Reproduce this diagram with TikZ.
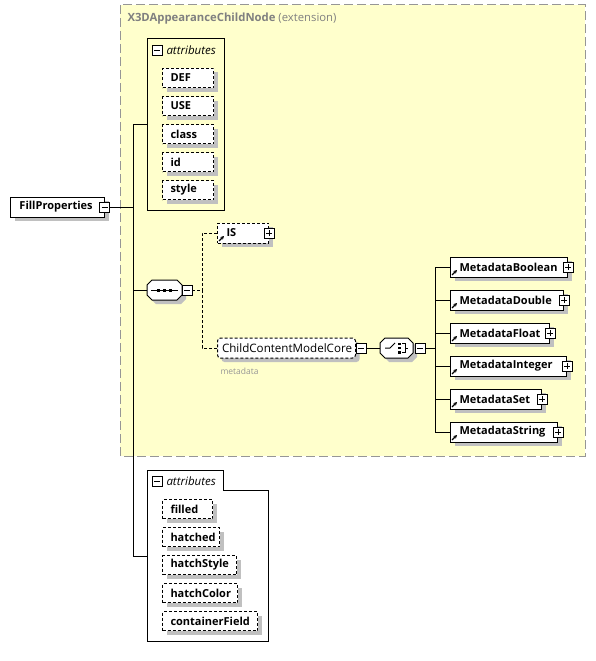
\documentclass[tikz,border=0pt]{standalone}
\usepackage{fontspec}
\setmainfont{Open Sans}
\usetikzlibrary{shadows,arrows.meta}
\definecolor{ybg}{RGB}{255,255,204}
\definecolor{yborder}{RGB}{150,150,150}
\definecolor{shadowc}{RGB}{192,192,192}
\definecolor{ttl}{RGB}{128,128,128}
\definecolor{mdgray}{RGB}{150,150,150}
\newcommand{\lbx}[2]{\makebox[#1][l]{#2}}
\newcommand{\octpath}[4]{({#1+5},#2) -- ({#3-5},#2) -- (#3,{#2+5}) -- (#3,{#4-5}) -- ({#3-5},#4) -- ({#1+5},#4) -- (#1,{#4-5}) -- (#1,{#2+5}) -- cycle}
\begin{document}
\begin{tikzpicture}[x=1pt,y=-1pt,line width=1pt,
  shad/.style={drop shadow={shadow xshift=4pt,shadow yshift=-4pt,fill=shadowc,opacity=1}},
  elem/.style={draw,fill=white,shad,anchor=west,minimum height=20pt,inner ysep=0pt,inner xsep=8pt,
    font=\bfseries\fontsize{11}{13}\selectfont},
  attr/.style={elem,dash pattern=on 3pt off 2pt,minimum height=19pt},
  refel/.style={elem,inner xsep=9pt},
  solidel/.style={elem,inner xsep=9pt},
  pmbox/.style={draw,solid,fill=white,minimum size=10pt,inner sep=0pt,line width=0.8pt},
  minusbox/.style={pmbox,path picture={\draw[line width=0.8pt] ([xshift=2pt]path picture bounding box.west) -- ([xshift=-2pt]path picture bounding box.east);}},
  plusbox/.style={pmbox,path picture={\draw[line width=0.8pt] ([xshift=2pt]path picture bounding box.west) -- ([xshift=-2pt]path picture bounding box.east);
     \draw[line width=0.8pt] ([yshift=2pt]path picture bounding box.south) -- ([yshift=-2pt]path picture bounding box.north);}},
  anch/.style={minimum height=20pt,inner sep=0pt},
  hdr/.style={anchor=west,inner sep=0pt,font=\itshape\fontsize{11.5}{13}\selectfont},
  refarrow/.style={solid,-{Stealth[length=3.5pt,width=3.5pt]},line width=1.1pt},
  conn/.style={line width=1pt},
  dconn/.style={line width=1pt,dash pattern=on 3pt off 2pt}
]
\useasboundingbox (0,0) rectangle (596,661);
\fill[white] (0,0) rectangle (596,661);

% extension area
\draw[fill=ybg,draw=yborder,dash pattern=on 9pt off 4pt] (120,5) rectangle (585,456);
\node[anchor=west,inner sep=0pt,text=ttl,font=\fontsize{11.3}{13}\selectfont] (ttl) at (127,19)
  {\textbf{X3DAppearanceChildNode} (extension)};

% root
\node[solidel] (fp) at (10,207) {\lbx{76pt}{FillProperties}};
\node[minusbox] (fpm) at ([xshift=-0.5pt]fp.east) {};
\coordinate (trunk) at (133,207);
\draw[conn] (fpm.east) -- (trunk);

% top attributes
\node[draw,minimum width=77pt,minimum height=171pt,inner sep=0pt] (attA) at (185.5,124.5) {};
\node[minusbox] (attAm) at (157,50) {};
\node[hdr] (attAt) at (166,50) {attributes};
\node[attr] (def) at (162,78) {\lbx{35pt}{DEF}};
\node[attr] (use) at (162,106) {\lbx{35pt}{USE}};
\node[attr] (class) at (162,134) {\lbx{35pt}{class}};
\node[attr] (id) at (162,162) {\lbx{35pt}{id}};
\node[attr] (style) at (162,190) {\lbx{35pt}{style}};
\draw[conn] (attA.west) -| (trunk);

% sequence
\node[anch,minimum width=35pt] (seq) at (164.5,290) {};
\fill[shadowc] [shift={(4,4)}] \octpath{147}{280}{182}{300};
\draw[fill=white] \octpath{147}{280}{182}{300};
\draw[line width=1pt] (151,290) -- (178,290);
\fill (157,288.5) rectangle (160,291.5);
\fill (163,288.5) rectangle (166,291.5);
\fill (169,288.5) rectangle (172,291.5);
\node[minusbox] (seqm) at (187,290) {};
\draw[conn] (seq.west) -| (trunk);
\coordinate (seqfork) at (202,290);
\draw[dconn] (seqm.east) -- (seqfork);

% IS
\node[refel,dash pattern=on 3pt off 2pt] (is) at (217,233) {\lbx{33pt}{IS}};
\node[plusbox] (isp) at (is.east) {};
\draw[refarrow] ([shift={(2,-2.5)}]is.south west) -- ++(5,-5);
\draw[dconn] (is.west) -| (seqfork);

% ChildContentModelCore
\node[elem,dash pattern=on 3pt off 2pt,rounded corners=3pt,inner xsep=4.5pt,
  font=\fontsize{11.6}{14}\selectfont] (ccmc) at (217,348) {\lbx{129pt}{ChildContentModelCore}};
\node[minusbox] (ccmcm) at ([xshift=5pt]ccmc.east) {};
\node[anchor=west,inner sep=0pt,text=mdgray,font=\fontsize{8.5}{10}\selectfont] (md) at (220,371) {metadata};
\draw[dconn] (ccmc.west) -| (seqfork);

% choice
\node[anch,minimum width=33pt] (choice) at (396.5,348) {};
\fill[shadowc] [shift={(4,4)}] \octpath{380}{338}{413}{358};
\draw[fill=white] \octpath{380}{338}{413}{358};
\draw[line width=1pt] (385,348) -- (390,348) -- (395,343);
\fill (398,342.5) rectangle (401,345);
\fill (398,346.8) rectangle (401,349.3);
\fill (398,351) rectangle (401,353.5);
\draw[line width=1pt] (402,343.7) -- (405,343.7) -- (405,352.3) -- (402,352.3);
\draw[line width=1pt] (405,348) -- (408,348);
\node[minusbox] (choicem) at (420,348) {};
\draw[conn] (ccmcm.east) -- (choice.west);
\coordinate (chfork) at (435,348);
\draw[conn] (choicem.east) -- (chfork);

% metadata elements
\node[refel] (mb) at (450,267) {\lbx{99pt}{MetadataBoolean}};
\node[refel] (mdbl) at (450,300) {\lbx{95pt}{MetadataDouble}};
\node[refel] (mf) at (450,333) {\lbx{81pt}{MetadataFloat}};
\node[refel] (mi) at (450,366) {\lbx{98pt}{MetadataInteger}};
\node[refel] (ms) at (450,399) {\lbx{73pt}{MetadataSet}};
\node[refel] (mstr) at (450,432) {\lbx{89pt}{MetadataString}};
\foreach \n in {mb,mdbl,mf,mi,ms,mstr}{
  \node[plusbox] at (\n.east) {};
  \draw[refarrow] ([shift={(2,-2.5)}]\n.south west) -- ++(5,-5);
  \draw[conn] (\n.west) -| (chfork);
}

% bottom attributes
\draw[fill=white] (147,470) -- (223,470) -- (223,490) -- (268,490) -- (268,641) -- (147,641) -- cycle;
\node[minusbox] (attBm) at (157,481) {};
\node[hdr] (attBt) at (166,481) {attributes};
\node[attr] (filled) at (162,509) {\lbx{34pt}{filled}};
\node[attr] (hatched) at (162,537) {\lbx{41pt}{hatched}};
\node[attr] (hstyle) at (162,565) {\lbx{58pt}{hatchStyle}};
\node[attr] (hcolor) at (162,593) {\lbx{59pt}{hatchColor}};
\node[attr] (cfield) at (162,621) {\lbx{79pt}{containerField}};
\coordinate (attBin) at (147,556);
\draw[conn] (attBin) -| (trunk);
\end{tikzpicture}
\end{document}
